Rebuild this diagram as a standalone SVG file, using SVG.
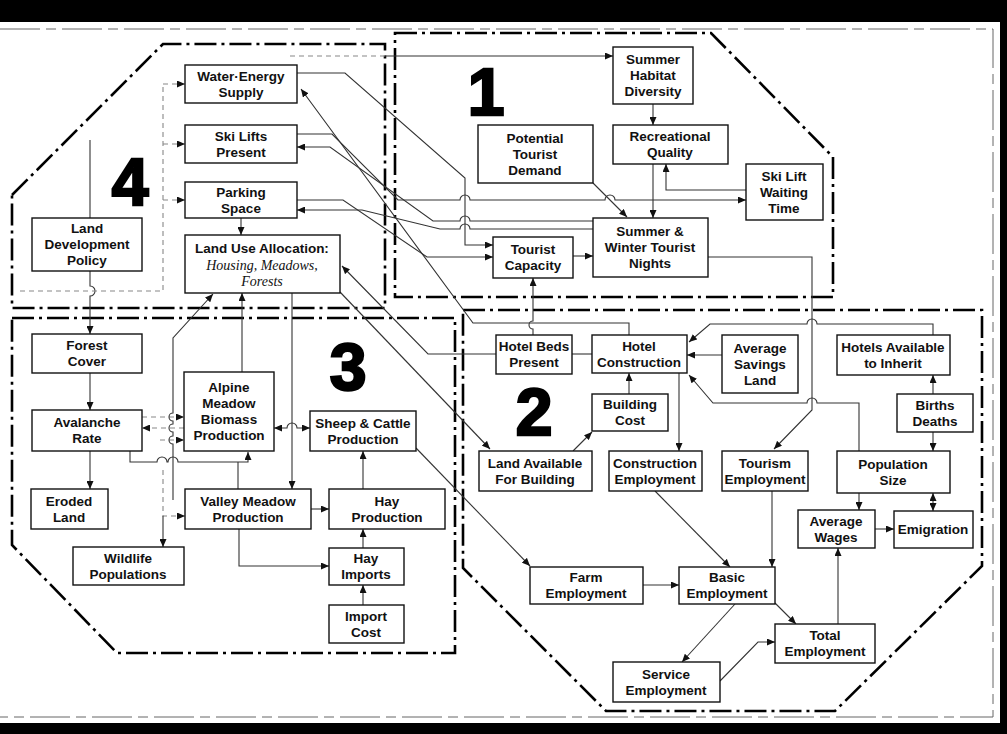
<svg xmlns="http://www.w3.org/2000/svg" width="1007" height="734" viewBox="0 0 1007 734">
<defs>
<marker id="ah" markerUnits="userSpaceOnUse" markerWidth="8" markerHeight="7" refX="8" refY="3.5" orient="auto">
<path d="M0,0 L8,3.5 L0,7 z" fill="#111"/>
</marker>
<marker id="as" markerUnits="userSpaceOnUse" markerWidth="8" markerHeight="7" refX="0" refY="3.5" orient="auto">
<path d="M8,0 L0,3.5 L8,7 z" fill="#111"/>
</marker>
<style>
.box rect{fill:#fff;stroke:#111;stroke-width:1.4}
.box text{font-family:"Liberation Sans",Arial,sans-serif;font-weight:bold;font-size:13.5px;text-anchor:middle;fill:#111}
.box text.it{font-family:"Liberation Serif","Times New Roman",serif;font-weight:normal;font-style:italic;font-size:14px}
.region{fill:none;stroke:#000;stroke-width:2.6;stroke-dasharray:22 5 3 5}
.frame{fill:none;stroke:#666;stroke-width:1}
.c{fill:none;stroke:#333;stroke-width:1.1}
.a{marker-end:url(#ah)}
.b{marker-start:url(#as)}
.d{stroke:#888;stroke-dasharray:5 4}
.num{font-family:"Liberation Sans",Arial,sans-serif;font-weight:bold;font-size:66px;text-anchor:middle;fill:#000;stroke:#000;stroke-width:2.5}
</style>
</defs>
<rect width="1007" height="734" fill="#fff"/>
<g id="page">
<rect x="0" y="0" width="1007" height="22" fill="#000"/>
<rect x="0" y="723" width="1007" height="11" fill="#000"/>
<rect x="1000" y="0" width="7" height="734" fill="#000"/>
<path class="frame" d="M0,29 H993 V717 H0" stroke-dasharray="40 6 10 6"/>
</g>
<g id="regions">
<path class="region" d="M12,195 L163,44 L385,44 L385,308 L12,308 Z"/>
<path class="region" d="M395,33 L711,33 L833,157 L833,297 L395,297 Z"/>
<path class="region" d="M12,318 L455,318 L455,653 L117,653 L12,545 Z"/>
<path class="region" d="M463,310 L982,310 L982,566 L835,711 L606,711 L463,568 Z"/>
<text class="num" x="486" y="115">1</text>
<text class="num" x="534" y="435">2</text>
<text class="num" x="348" y="390">3</text>
<text class="num" x="130" y="205">4</text>
</g>
<g id="connectors">
<path class="c" d="M653,104 V125" marker-end="url(#ah)"/>
<path class="c a" d="M653,164 V218"/>
<path class="c a" d="M746,190 H666 V164"/>
<path class="c a" d="M593,183 L627,217"/>
<path class="c a" d="M573,256 H593"/>
<path class="c d" d="M290,56 H385"/>
<path class="c a" d="M385,56 H613"/>
<path class="c a" d="M297,134 H332 L398,200 H460 a5,5 0 0 1 10,0 H605 a5,5 0 0 1 10,0 H746"/>
<path class="c a" d="M297,73 H345 L465,178 V245 H493"/>
<path class="c a" d="M297,200 H343 L427,257 H493"/>
<path class="c a" d="M593,221 H470 a5,5 0 0 0 -10,0 H433 L330,147 H297"/>
<path class="c a" d="M593,229 H470 a5,5 0 0 0 -10,0 H440 L362,210 H297"/>
<path class="c a" d="M629,335 V323 H473 L301,89"/>
<path class="c a" d="M533,335 V329 a4,4 0 0 1 0,-8 V278"/>
<path class="c a" d="M496,354 H428 L342,266"/>
<path class="c a" d="M340,292 L490,449"/>
<path class="c a" d="M708,257 H812 V410 L774,449"/>
<path class="c a" d="M933,335 V324 H817 a5,5 0 0 0 -10,0 H710 L689,342"/>
<path class="c a" d="M722,355 H687"/>
<path class="c a" d="M859,451 V403 H817 a5,5 0 0 0 -10,0 H713 L689,375"/>
<path class="c a" d="M679,373 V451"/>
<path class="c a" d="M629,394 V373"/>
<path class="c a" d="M573,451 L592,432"/>
<path class="c" d="M572,354 H592"/>
<path class="c a" d="M933,394 V375"/>
<path class="c a" d="M933,432 V451"/>
<path class="c a" d="M859,493 V510"/>
<path class="c a b" d="M933,493 V511"/>
<path class="c a" d="M875,529 H894"/>
<path class="c a" d="M838,624 V548"/>
<path class="c a" d="M775,603 L796,624"/>
<path class="c a" d="M735,604 L682,662"/>
<path class="c a" d="M720,681 L758,642 H775"/>
<path class="c a" d="M655,491 L730,567"/>
<path class="c a" d="M772,491 V567"/>
<path class="c a" d="M643,585 H679"/>
<path class="c a" d="M416,448 L530,566"/>
<path class="c a" d="M90,271 V286 a5,5 0 0 1 0,10 V334"/>
<path class="c d" d="M20,291 H163 V84"/>
<path class="c d a" d="M163,84 H185"/>
<path class="c d a" d="M163,144 H185"/>
<path class="c d a" d="M163,200 H185"/>
<path class="c" d="M90,218 V140"/>
<path class="c a" d="M90,373 V410"/>
<path class="c a" d="M90,451 V489"/>
<path class="c d a" d="M142,417 H184"/>
<path class="c d a" d="M184,428 H142"/>
<path class="c d a" d="M160,440 H184"/>
<path class="c a" d="M173,500 V444 a4,4 0 0 1 0,-8 V432 a4,4 0 0 1 0,-8 V421 a4,4 0 0 1 0,-8 V338 L213,294"/>
<path class="c d a" d="M163,470 V516 H185"/>
<path class="c a" d="M163,516 V547"/>
<path class="c a" d="M130,451 V462 H157 a5,5 0 0 1 10,0 H168 a5,5 0 0 1 10,0 H248 V452"/>
<path class="c" d="M238,489 V462"/>
<path class="c a" d="M292,293 V489"/>
<path class="c a b" d="M274,428 H287 a5,5 0 0 1 10,0 H310"/>
<path class="c a" d="M242,372 V293"/>
<path class="c a" d="M241,218 V235"/>
<path class="c a" d="M311,509 H329"/>
<path class="c a" d="M239,529 V566 H329"/>
<path class="c a" d="M363,548 V529"/>
<path class="c a" d="M363,605 V585"/>
<path class="c a" d="M363,489 V451"/>
</g>
<g id="n-water" class="box"><rect x="185" y="65" width="112" height="38"/><text><tspan x="241" y="81">Water·Energy</tspan><tspan x="241" y="97">Supply</tspan></text></g>
<g id="n-skilifts" class="box"><rect x="185" y="125" width="112" height="38"/><text><tspan x="241" y="141">Ski Lifts</tspan><tspan x="241" y="157">Present</tspan></text></g>
<g id="n-parking" class="box"><rect x="185" y="182" width="112" height="36"/><text><tspan x="241" y="197">Parking</tspan><tspan x="241" y="213">Space</tspan></text></g>
<g id="n-landuse" class="box"><rect x="185" y="235" width="155" height="58"/><text><tspan x="262" y="253">Land Use Allocation:</tspan></text><text class="it"><tspan x="262" y="270">Housing, Meadows,</tspan><tspan x="262" y="286">Forests</tspan></text></g>
<g id="n-landdev" class="box"><rect x="32" y="218" width="110" height="53"/><text><tspan x="87" y="233">Land</tspan><tspan x="87" y="249">Development</tspan><tspan x="87" y="265">Policy</tspan></text></g>
<g id="n-habitat" class="box"><rect x="613" y="47" width="80" height="57"/><text><tspan x="653" y="64">Summer</tspan><tspan x="653" y="80">Habitat</tspan><tspan x="653" y="96">Diversity</tspan></text></g>
<g id="n-recqual" class="box"><rect x="613" y="125" width="115" height="39"/><text><tspan x="670" y="141">Recreational</tspan><tspan x="670" y="157">Quality</tspan></text></g>
<g id="n-demand" class="box"><rect x="478" y="125" width="115" height="58"/><text><tspan x="535" y="143">Potential</tspan><tspan x="535" y="159">Tourist</tspan><tspan x="535" y="175">Demand</tspan></text></g>
<g id="n-skiwait" class="box"><rect x="746" y="164" width="77" height="56"/><text><tspan x="784" y="181">Ski Lift</tspan><tspan x="784" y="197">Waiting</tspan><tspan x="784" y="213">Time</tspan></text></g>
<g id="n-nights" class="box"><rect x="593" y="218" width="115" height="59"/><text><tspan x="650" y="236">Summer &amp;</tspan><tspan x="650" y="252">Winter Tourist</tspan><tspan x="650" y="268">Nights</tspan></text></g>
<g id="n-capacity" class="box"><rect x="493" y="237" width="80" height="41"/><text><tspan x="533" y="254">Tourist</tspan><tspan x="533" y="270">Capacity</tspan></text></g>
<g id="n-hotelbeds" class="box"><rect x="496" y="335" width="76" height="39"/><text><tspan x="534" y="351">Hotel Beds</tspan><tspan x="534" y="367">Present</tspan></text></g>
<g id="n-hotelcons" class="box"><rect x="592" y="335" width="95" height="38"/><text><tspan x="639" y="351">Hotel</tspan><tspan x="639" y="367">Construction</tspan></text></g>
<g id="n-savings" class="box"><rect x="722" y="335" width="76" height="58"/><text><tspan x="760" y="353">Average</tspan><tspan x="760" y="369">Savings</tspan><tspan x="760" y="385">Land</tspan></text></g>
<g id="n-hotelsavail" class="box"><rect x="837" y="335" width="113" height="40"/><text><tspan x="893" y="352">Hotels Available</tspan><tspan x="893" y="368">to Inherit</tspan></text></g>
<g id="n-births" class="box"><rect x="897" y="394" width="76" height="38"/><text><tspan x="935" y="410">Births</tspan><tspan x="935" y="426">Deaths</tspan></text></g>
<g id="n-buildcost" class="box"><rect x="592" y="394" width="76" height="37"/><text><tspan x="630" y="409">Building</tspan><tspan x="630" y="425">Cost</tspan></text></g>
<g id="n-landavail" class="box"><rect x="479" y="451" width="113" height="40"/><text><tspan x="535" y="468">Land Available</tspan><tspan x="535" y="484">For Building</tspan></text></g>
<g id="n-consemp" class="box"><rect x="609" y="451" width="93" height="40"/><text><tspan x="655" y="468">Construction</tspan><tspan x="655" y="484">Employment</tspan></text></g>
<g id="n-touremp" class="box"><rect x="722" y="451" width="86" height="40"/><text><tspan x="765" y="468">Tourism</tspan><tspan x="765" y="484">Employment</tspan></text></g>
<g id="n-popsize" class="box"><rect x="837" y="451" width="113" height="42"/><text><tspan x="893" y="469">Population</tspan><tspan x="893" y="485">Size</tspan></text></g>
<g id="n-wages" class="box"><rect x="798" y="510" width="77" height="38"/><text><tspan x="836" y="526">Average</tspan><tspan x="836" y="542">Wages</tspan></text></g>
<g id="n-emigration" class="box"><rect x="894" y="511" width="79" height="37"/><text><tspan x="933" y="534">Emigration</tspan></text></g>
<g id="n-basic" class="box"><rect x="679" y="567" width="96" height="37"/><text><tspan x="727" y="582">Basic</tspan><tspan x="727" y="598">Employment</tspan></text></g>
<g id="n-total" class="box"><rect x="775" y="624" width="100" height="39"/><text><tspan x="825" y="640">Total</tspan><tspan x="825" y="656">Employment</tspan></text></g>
<g id="n-service" class="box"><rect x="613" y="662" width="107" height="40"/><text><tspan x="666" y="679">Service</tspan><tspan x="666" y="695">Employment</tspan></text></g>
<g id="n-farm" class="box"><rect x="530" y="567" width="113" height="37"/><text><tspan x="586" y="582">Farm</tspan><tspan x="586" y="598">Employment</tspan></text></g>
<g id="n-forest" class="box"><rect x="32" y="334" width="110" height="39"/><text><tspan x="87" y="350">Forest</tspan><tspan x="87" y="366">Cover</tspan></text></g>
<g id="n-avalanche" class="box"><rect x="32" y="410" width="110" height="41"/><text><tspan x="87" y="427">Avalanche</tspan><tspan x="87" y="443">Rate</tspan></text></g>
<g id="n-eroded" class="box"><rect x="31" y="489" width="77" height="40"/><text><tspan x="69" y="506">Eroded</tspan><tspan x="69" y="522">Land</tspan></text></g>
<g id="n-wildlife" class="box"><rect x="73" y="547" width="111" height="38"/><text><tspan x="128" y="563">Wildlife</tspan><tspan x="128" y="579">Populations</tspan></text></g>
<g id="n-alpine" class="box"><rect x="184" y="372" width="90" height="79"/><text><tspan x="229" y="392">Alpine</tspan><tspan x="229" y="408">Meadow</tspan><tspan x="229" y="424">Biomass</tspan><tspan x="229" y="440">Production</tspan></text></g>
<g id="n-sheep" class="box"><rect x="310" y="411" width="106" height="40"/><text><tspan x="363" y="428">Sheep &amp; Cattle</tspan><tspan x="363" y="444">Production</tspan></text></g>
<g id="n-valley" class="box"><rect x="185" y="489" width="126" height="40"/><text><tspan x="248" y="506">Valley Meadow</tspan><tspan x="248" y="522">Production</tspan></text></g>
<g id="n-hayprod" class="box"><rect x="329" y="489" width="116" height="40"/><text><tspan x="387" y="506">Hay</tspan><tspan x="387" y="522">Production</tspan></text></g>
<g id="n-hayimports" class="box"><rect x="329" y="548" width="75" height="37"/><text><tspan x="366" y="563">Hay</tspan><tspan x="366" y="579">Imports</tspan></text></g>
<g id="n-importcost" class="box"><rect x="329" y="605" width="75" height="38"/><text><tspan x="366" y="621">Import</tspan><tspan x="366" y="637">Cost</tspan></text></g>
</svg>
